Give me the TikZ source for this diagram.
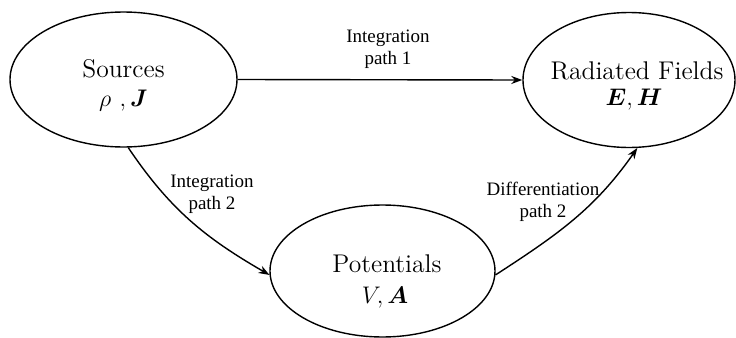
\documentclass[tikz,border=0pt]{standalone}
\usepackage{fontspec}
\usepackage{bm}
\newfontfamily\labfont{Liberation Serif}
\usetikzlibrary{arrows.meta,shapes.geometric}
\tikzset{
  blob/.style={draw, line width=0.7pt, ellipse, inner sep=0pt},
  nodetext/.style={font=\fontsize{12.8}{14}\selectfont, align=center, inner sep=0pt},
  lab/.style={font=\labfont\fontsize{9.5}{11}\selectfont, align=center, inner sep=0pt},
  conn/.style={line width=0.7pt, -{Stealth[length=5.5pt,width=4pt]}}
}
\begin{document}
\begin{tikzpicture}[x=0.5pt,y=-0.5pt]
\useasboundingbox (0,0) rectangle (736,338);
% ellipses
\node[blob, minimum width=113.5pt, minimum height=67.5pt] (src) at (123.5,79.5) {};
\node[blob, minimum width=106pt, minimum height=67.5pt] (rad) at (629,80) {};
\node[blob, minimum width=112.5pt, minimum height=66pt] (pot) at (382.5,271) {};
% texts
\node[nodetext] (t1) at (123.5,69) {Sources};
\node[nodetext] (m1) at (123.5,101) {$\rho\ {,}\,\bm{J}$};
\node[nodetext] (t2) at (637,71) {Radiated Fields};
\node[nodetext] (m2) at (634,100) {$\bm{E},\bm{H}$};
\node[nodetext] (t3) at (387,264) {Potentials};
\node[nodetext] (m3) at (385,298) {$V,\bm{A}$};
% connectors
\draw[conn] (src.east) -- (rad.west);
\draw[conn] (src.-86) to[out=-56,in=150] (pot.182.5);
\draw[conn] (pot.-2.5) to[out=33,in=235] (rad.-83.5);
% labels
\node[lab] (l1) at (388,49) {Integration\\path 1};
\node[lab] (l2) at (212,194) {Integration\\path 2};
\node[lab] (l3) at (543,202) {Differentiation\\path 2};
\end{tikzpicture}
\end{document}
